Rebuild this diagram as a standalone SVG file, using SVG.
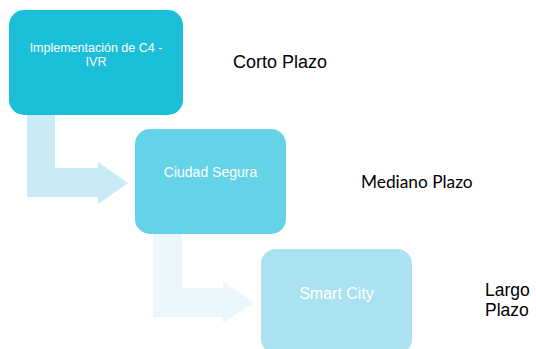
<svg xmlns="http://www.w3.org/2000/svg" width="536" height="349" viewBox="0 0 536 349">
<style>
.box-text{font-family:"Liberation Sans",Arial,sans-serif;fill:#ffffff;text-anchor:middle}
.label{font-family:"Liberation Sans",Arial,sans-serif;fill:#000000}
.label2{font-family:Lato,"Liberation Sans",sans-serif;fill:#000000}
</style>
<rect width="536" height="349" fill="#ffffff"/>
<g id="connectors">
<path d="M27,115 H55 V168 H98 V162 L128,183 L98,204 V197 H27 Z" fill="#c8ebf5"/>
<path d="M153,234 H182 V288 H223 V282 L254,302.5 L223,323 V317 H153 Z" fill="#ebf7fb"/>
</g>
<g id="node1">
<rect x="9" y="10" width="174" height="105" rx="15" fill="#1cbfd9"/>
<text class="box-text" font-size="12.5"><tspan x="96" y="52">Implementación de C4 -</tspan><tspan x="96" y="66">IVR</tspan></text>
</g>
<g id="node2">
<rect x="135" y="129" width="151" height="105" rx="15" fill="#64d3e8"/>
<text class="box-text" x="210.5" y="177" font-size="14">Ciudad Segura</text>
</g>
<g id="node3">
<rect x="261" y="249" width="151" height="105" rx="15" fill="#aae2f1"/>
<text class="box-text" x="336.5" y="299" font-size="16">Smart City</text>
</g>
<g id="labels">
<text class="label" x="233" y="68" font-size="18">Corto Plazo</text>
<text class="label2" x="361" y="188" font-size="17.3">Mediano Plazo</text>
<text class="label" font-size="17.5"><tspan x="485" y="296">Largo</tspan><tspan x="485" y="316">Plazo</tspan></text>
</g>
</svg>
